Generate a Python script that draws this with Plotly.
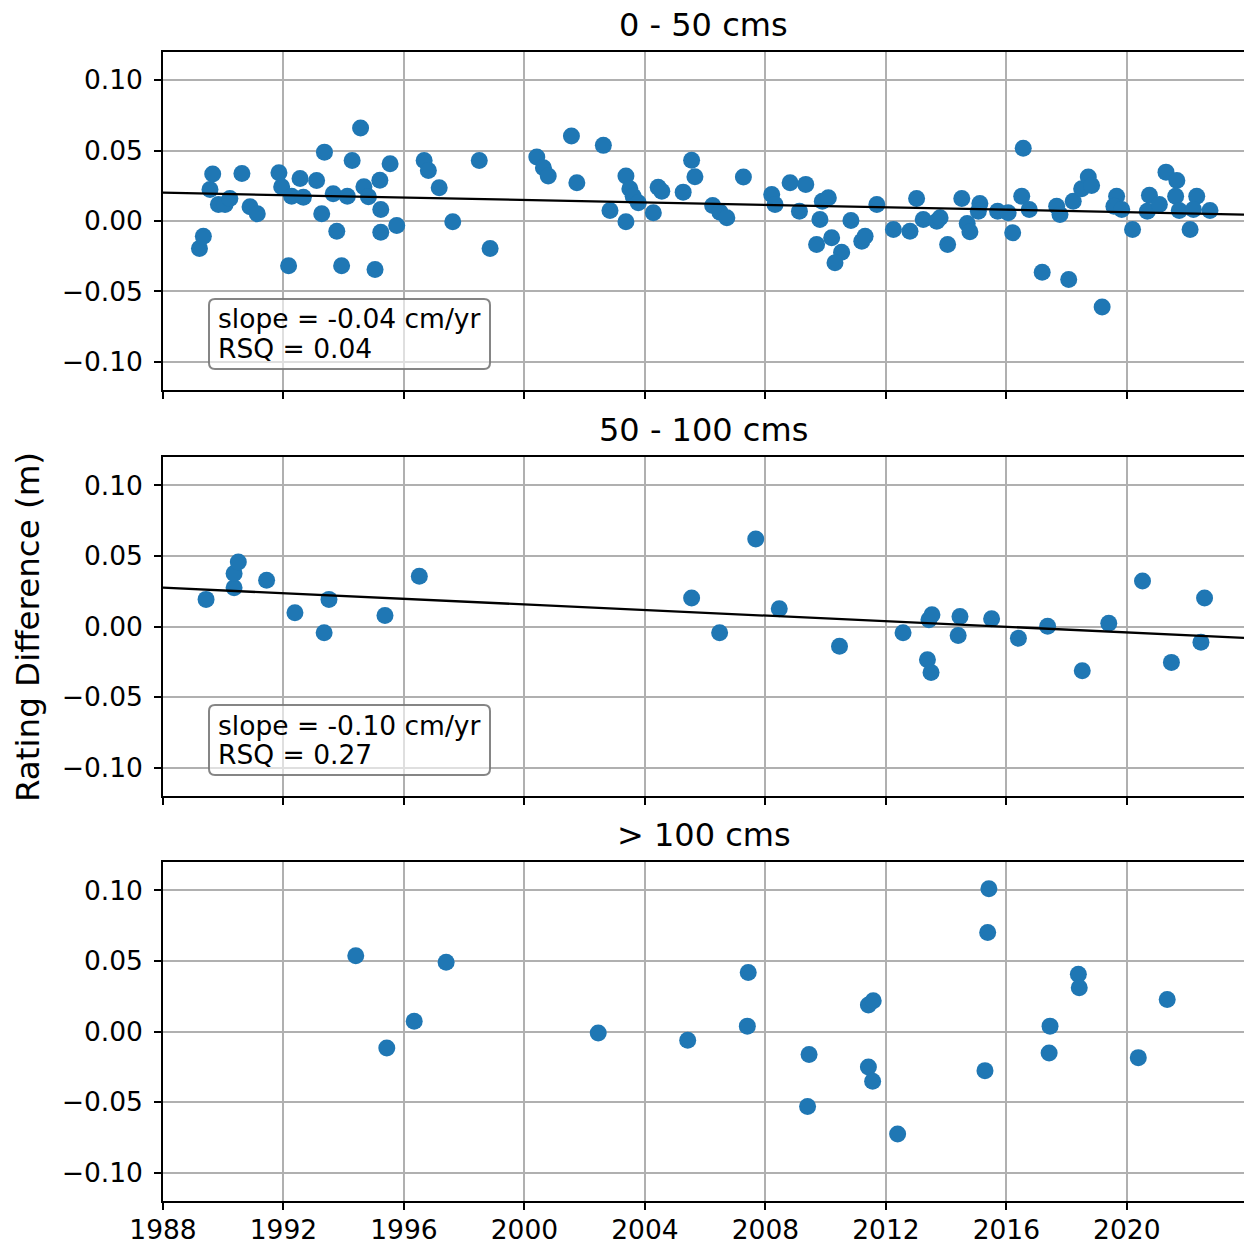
import plotly.graph_objects as go

# ---------------- data ----------------
p1_year = [1989.21, 1989.34, 1989.56, 1989.65, 1989.84, 1990.06, 1990.22, 1990.62, 1990.89, 1991.13,
           1991.85, 1991.94, 1992.17, 1992.27, 1992.55, 1992.66, 1993.10, 1993.27, 1993.36, 1993.65,
           1993.77, 1993.93, 1994.12, 1994.28, 1994.56, 1994.67, 1994.82, 1995.04, 1995.20, 1995.23,
           1995.23, 1995.54, 1995.76, 1996.67, 1996.81, 1997.17, 1997.62, 1998.50, 1998.86, 2000.41,
           2000.63, 2000.79, 2001.56, 2001.74, 2002.62, 2002.84, 2003.37, 2003.37, 2003.50, 2003.61,
           2003.78, 2004.28, 2004.44, 2004.56, 2005.27, 2005.55, 2005.66, 2006.25, 2006.49, 2006.72,
           2007.27, 2008.21, 2008.32, 2008.82, 2009.13, 2009.34, 2009.70, 2009.81, 2009.89, 2010.09,
           2010.20, 2010.53, 2010.31, 2010.84, 2011.20, 2011.31, 2011.70, 2012.25, 2012.80, 2013.02,
           2013.24, 2013.69, 2013.80, 2014.05, 2014.52, 2014.70, 2014.79, 2015.12, 2015.07, 2015.71,
           2016.06, 2016.21, 2016.56, 2016.51, 2016.76, 2017.19, 2017.67, 2017.78, 2018.07, 2018.22,
           2018.50, 2018.72, 2018.83, 2019.18, 2019.66, 2019.57, 2019.83, 2020.19, 2020.75, 2020.68,
           2021.08, 2021.30, 2021.66, 2021.62, 2021.74, 2022.10, 2022.32, 2022.21, 2022.76]
p1_diff = [-0.0196, -0.0108, 0.0224, 0.0333, 0.0117, 0.0117, 0.0160, 0.0338, 0.0101, 0.0051,
           0.0343, 0.0243, -0.0317, 0.0176, 0.0302, 0.0169, 0.0288, 0.0051, 0.0489, 0.0193,
           -0.0073, -0.0317, 0.0176, 0.0430, 0.0660, 0.0243, 0.0172, -0.0345, 0.0290, 0.0082,
           -0.0080, 0.0407, -0.0032, 0.0430, 0.0359, 0.0236, -0.0006, 0.0430, -0.0196, 0.0454,
           0.0378, 0.0319, 0.0603, 0.0272, 0.0537, 0.0075, 0.0319, -0.0006, 0.0229, 0.0176,
           0.0129, 0.0058, 0.0240, 0.0212, 0.0205, 0.0432, 0.0314, 0.0110, 0.0063, 0.0023,
           0.0312, 0.0188, 0.0117, 0.0272, 0.0070, 0.0260, -0.0167, 0.0011, 0.0141, 0.0165,
           -0.0119, -0.0222, -0.0297, 0.0004, -0.0144, -0.0108, 0.0117, -0.0060, -0.0073, 0.0160,
           0.0011, -0.0001, 0.0023, -0.0167, 0.0160, -0.0018, -0.0077, 0.0124, 0.0070, 0.0070,
           0.0058, -0.0084, 0.0516, 0.0176, 0.0082, -0.0364, 0.0105, 0.0046, -0.0416, 0.0141,
           0.0229, 0.0312, 0.0252, -0.0610, 0.0176, 0.0105, 0.0082, -0.0060, 0.0183, 0.0070,
           0.0117, 0.0347, 0.0288, 0.0176, 0.0075, -0.0060, 0.0176, 0.0082, 0.0075]

p2_year = [1989.43, 1990.36, 1990.36, 1990.50, 1991.44, 1992.38, 1993.35, 1993.51, 1995.37, 1996.51,
           2005.55, 2006.48, 2007.68, 2008.46, 2010.46, 2012.57, 2013.38, 2013.50, 2013.43, 2013.53,
           2014.40, 2014.46, 2015.51, 2016.40, 2017.37, 2018.52, 2019.40, 2020.52, 2021.48, 2022.46,
           2022.58]
p2_diff = [0.0192, 0.0275, 0.0375, 0.0457, 0.0327, 0.0097, -0.0045, 0.0192, 0.0078, 0.0356,
           0.0201, -0.0045, 0.0619, 0.0126, -0.0140, -0.0045, -0.0235, -0.0325, 0.0048, 0.0083,
           -0.0064, 0.0071, 0.0055, -0.0083, 0.0002, -0.0313, 0.0023, 0.0322, -0.0254, -0.0112,
           0.0201]

p3_year = [1994.40, 1995.43, 1996.34, 1997.40, 2002.45, 2005.42, 2007.43, 2007.40, 2009.45, 2009.40,
           2011.42, 2011.58, 2011.42, 2011.56, 2012.39, 2015.42, 2015.38, 2015.29, 2018.39, 2018.42,
           2017.45, 2017.42, 2021.34, 2020.38]
p3_diff = [0.0537, -0.0117, 0.0073, 0.0490, -0.0010, -0.0062, 0.0417, 0.0038, -0.0163, -0.0531,
           0.0187, 0.0218, -0.0251, -0.0353, -0.0725, 0.1011, 0.0701, -0.0277, 0.0405, 0.0310,
           0.0038, -0.0152, 0.0227, -0.0185]

# linear trends (value at 1988, slope in m/yr)
trend1_at1988, trend1_slope = 0.0201, -0.000432
trend2_at1988, trend2_slope = 0.0275, -0.000990

panel_titles = ["0 - 50 cms", "50 - 100 cms", "> 100 cms"]
stats_text = [["slope = -0.04 cm/yr", "RSQ = 0.04"], ["slope = -0.10 cm/yr", "RSQ = 0.27"]]
x_ticks = [1988, 1992, 1996, 2000, 2004, 2008, 2012, 2016, 2020]
y_ticks = [0.10, 0.05, 0.00, -0.05, -0.10]
y_ticklabels = ["0.10", "0.05", "0.00", "\u22120.05", "\u22120.10"]
y_label = "Rating Difference (m)"

# ---------------- layout geometry (pixels) ----------------
W, H = 1244, 1243
L = 163
PW = W - L
XR = [1988, 1988 + PW / 30.12]
YR = [-0.12, 0.12]
panels_px = [(52, 390), (457, 796), (862, 1201)]

def pxx(p):
    return (p - L) / PW

def pyy(p):
    return 1 - p / H

FONT = "DejaVu Sans"
BLUE = "#1f77b4"
GRID = "#b0b0b0"

fig = go.Figure()

series = [(p1_year, p1_diff), (p2_year, p2_diff), (p3_year, p3_diff)]
trends = [(trend1_at1988, trend1_slope), (trend2_at1988, trend2_slope), None]

for i, (xs, ys) in enumerate(series):
    n = "" if i == 0 else str(i + 1)
    fig.add_trace(go.Scatter(x=xs, y=ys, mode="markers", xaxis="x" + n, yaxis="y" + n,
                             marker=dict(color=BLUE, size=17, line=dict(width=0)),
                             showlegend=False, hoverinfo="x+y"))
    if trends[i] is not None:
        b, m = trends[i]
        tx = [XR[0], XR[1]]
        ty = [b + m * (t - 1988) for t in tx]
        fig.add_trace(go.Scatter(x=tx, y=ty, mode="lines", xaxis="x" + n, yaxis="y" + n,
                                 line=dict(color="black", width=2.3), showlegend=False,
                                 hoverinfo="skip"))

axis_common = dict(showline=True, linecolor="black", linewidth=1.6, ticks="outside",
                   ticklen=7, tickwidth=1.6, tickcolor="black", showgrid=True,
                   gridcolor=GRID, gridwidth=1.6, zeroline=False, automargin=False,
                   tickfont=dict(family=FONT, size=26.5, color="black"))

layout = dict(width=W, height=H, margin=dict(l=L, r=0, t=0, b=0, autoexpand=False),
              paper_bgcolor="white", plot_bgcolor="white", showlegend=False)

for i, (top, bot) in enumerate(panels_px):
    n = "" if i == 0 else str(i + 1)
    layout["xaxis" + n] = dict(axis_common, domain=[0, 1], anchor="y" + n, range=XR,
                               tickmode="array", tickvals=x_ticks,
                               ticktext=[str(t) for t in x_ticks] if i == 2 else [""] * len(x_ticks),
                               mirror=True, ticklabelstandoff=-3)
    layout["yaxis" + n] = dict(axis_common, domain=[pyy(bot), pyy(top)], anchor="x" + n,
                               range=YR, tickmode="array", tickvals=y_ticks,
                               ticktext=y_ticklabels, ticklabelstandoff=6)

annotations = []
for i, (top, bot) in enumerate(panels_px):
    annotations.append(dict(text=panel_titles[i], xref="paper", yref="paper",
                            x=0.5, y=pyy(top - 27), xanchor="center", yanchor="middle",
                            showarrow=False, font=dict(family=FONT, size=32, color="black")))

annotations.append(dict(text=y_label, xref="paper", yref="paper", x=pxx(28), y=pyy(627),
                        xanchor="center", yanchor="middle", textangle=-90, showarrow=False,
                        font=dict(family=FONT, size=32.5, color="black")))

shapes = []
boxes_px = [(209, 299, 490, 369), (209, 705, 490, 775)]
for (x0p, y0p, x1p, y1p), lines in zip(boxes_px, stats_text):
    r = 6
    x0, x1 = pxx(x0p), pxx(x1p)
    yt, yb = pyy(y0p), pyy(y1p)
    rx, ry = r / PW, r / H
    path = (f"M {x0+rx},{yt} L {x1-rx},{yt} Q {x1},{yt} {x1},{yt-ry} "
            f"L {x1},{yb+ry} Q {x1},{yb} {x1-rx},{yb} L {x0+rx},{yb} Q {x0},{yb} {x0},{yb+ry} "
            f"L {x0},{yt-ry} Q {x0},{yt} {x0+rx},{yt} Z")
    shapes.append(dict(type="path", path=path, xref="paper", yref="paper",
                       fillcolor="rgba(255,255,255,0.6)",
                       line=dict(color="rgba(120,120,120,0.9)", width=2), layer="above"))
    for k, t in enumerate(lines):
        annotations.append(dict(text=t, xref="paper", yref="paper", x=pxx(216),
                                y=pyy(y0p + 20 + 29.5 * k), xanchor="left", yanchor="middle",
                                showarrow=False, font=dict(family=FONT, size=26.5, color="black")))

layout["annotations"] = annotations
layout["shapes"] = shapes
fig.update_layout(**layout)

fig.write_html("out.html")
